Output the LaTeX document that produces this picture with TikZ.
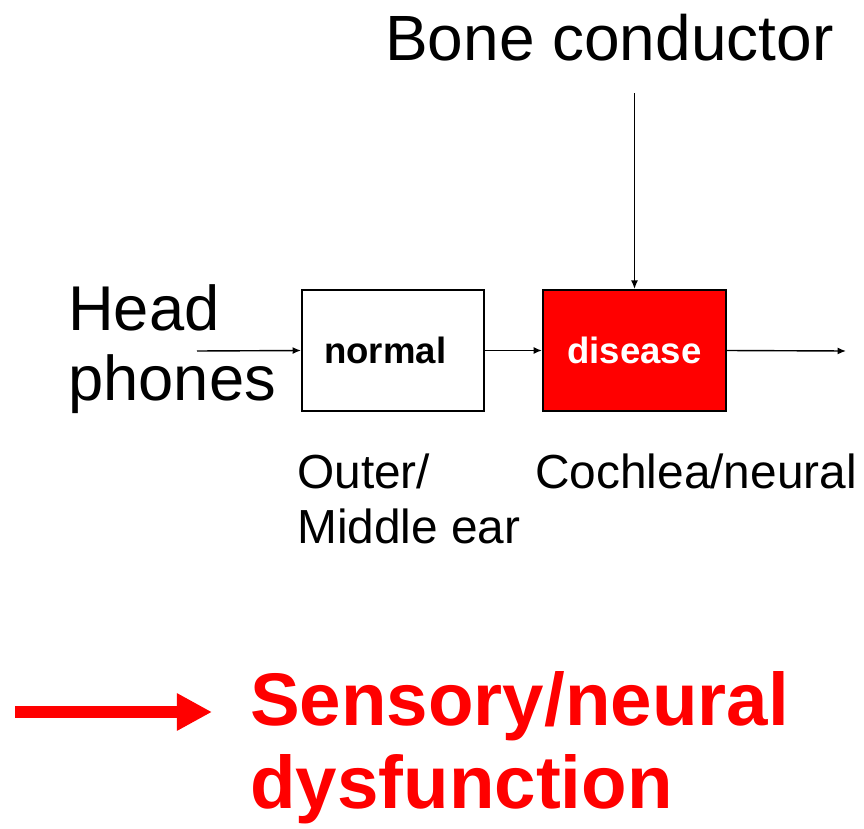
\documentclass[tikz,border=0pt]{standalone}
\usepackage{fontspec}
\setmainfont{Liberation Sans}
\usetikzlibrary{arrows.meta,positioning}
\definecolor{hot}{RGB}{255,0,0}

\begin{document}
\begin{tikzpicture}[x=0.025cm,y=-0.025cm,
  box/.style={draw,line width=1.4pt,minimum height=3.03cm,inner sep=0pt,
    font=\fontsize{26}{30}\selectfont\bfseries},
  lbl/.style={inner sep=0pt,anchor=base west,align=left},
  thin/.style={line width=1pt,-{Latex[length=6pt,width=5pt]}},
  >=Latex]
\useasboundingbox (0,0) rectangle (864,829);
\node[box,minimum width=4.55cm] (normal) at (393,350.5) {normal\hspace*{11pt}};
\node[box,minimum width=4.575cm,fill=hot,text=white] (disease) at (634.5,350.5) {disease};
\node[lbl,font=\fontsize{45.5}{50}\selectfont] (bone) at (385,60) {Bone conductor};
\node[lbl,font=\fontsize{45}{50}\selectfont] (head) at (68,330) {Head};
\node[lbl,font=\fontsize{45}{50}\selectfont] (phones) at (68,400) {phones};
\node[lbl,font=\fontsize{34}{39}\selectfont] (outer) at (297,488) {Outer/};
\node[lbl,font=\fontsize{34}{39}\selectfont] (middle) at (297,543) {Middle ear};
\node[lbl,font=\fontsize{34}{39}\selectfont] (cochlea) at (535,488) {Cochlea/neural};
\node[lbl,text=hot,font=\fontsize{53}{59}\selectfont\bfseries] (sens) at (250,725) {Sensory/neural};
\node[lbl,text=hot,font=\fontsize{53}{59}\selectfont\bfseries] (dys) at (250,808) {dysfunction};
\coordinate (in) at (197,351);
\coordinate (out) at (846,351);
\coordinate (bc) at (634.5,93);
\coordinate (ra) at (15,712);
\coordinate (rb) at (212,712);
\draw[thin] (in) -- (normal.west);
\draw[thin] (normal.east) -- (disease.west);
\draw[thin] (disease.east) -- (out);
\draw[thin] (bc) -- (disease.north);
\draw[hot,line width=8.5pt,-{Triangle[length=25pt,width=25pt]}] (ra) -- (rb);
\end{tikzpicture}
\end{document}
